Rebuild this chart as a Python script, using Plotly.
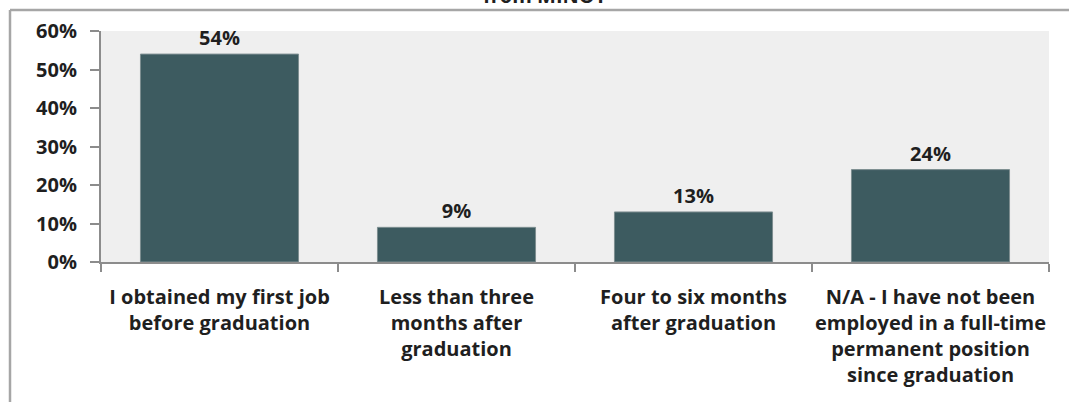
import plotly.graph_objects as go

# Data
categories = [
    "I obtained my first job<br>before graduation",
    "Less than three<br>months after<br>graduation",
    "Four to six months<br>after graduation",
    "N/A - I have not been<br>employed in a full-time<br>permanent position<br>since graduation",
]
percent = [54, 9, 13, 24]
y_ticks = [0, 10, 20, 30, 40, 50, 60]
title_tail = "from MINOT"

# Layout in pixels
W, H = 1069, 402
L, R, T, B = 101, 20, 31, 140
pw, ph = W - L - R, H - T - B

def px_x(x):
    return (x - L) / pw

def px_y(y):
    return (H - B - y) / ph

FONT = "Open Sans"
TXT = "#1f1f1f"
GRAY = "#8c8c8c"

fig = go.Figure()
fig.add_trace(go.Bar(
    x=categories,
    y=percent,
    marker=dict(color="#3d5b60", line=dict(color="#7d8e90", width=1)),
    text=[f"{v}%" for v in percent],
    textposition="outside",
    textfont=dict(family=FONT, size=20, color=TXT, weight="bold"),
    cliponaxis=False,
    width=0.667,
))

fig.update_layout(
    width=W, height=H,
    margin=dict(l=L, r=R, t=T, b=B, autoexpand=False),
    plot_bgcolor="#efefef",
    paper_bgcolor="white",
    showlegend=False,
    font=dict(family=FONT, color=TXT),
)

fig.update_yaxes(
    range=[0, 60],
    tickvals=y_ticks,
    ticktext=[f"{v}%" for v in y_ticks],
    showgrid=False,
    zeroline=False,
    automargin=False,
    showline=True, linecolor=GRAY, linewidth=2,
    ticks="outside", ticklen=9, tickcolor=GRAY, tickwidth=2,
    tickfont=dict(family=FONT, size=20, color=TXT, weight="bold"),
    ticklabelstandoff=9,
)
fig.update_xaxes(
    showgrid=False,
    automargin=False,
    tickangle=0,
    showline=True, linecolor=GRAY, linewidth=2,
    ticks="outside", ticklen=8, tickcolor=GRAY, tickwidth=2,
    tickson="boundaries",
    tickfont=dict(family=FONT, size=20, color=TXT, weight="bold"),
    ticklabelstandoff=16,
)

# outer chart frame (continues past the picture edges)
frame = dict(color="#a6a6a6", width=2.5)
fig.add_shape(type="line", xref="paper", yref="paper",
              x0=px_x(10), y0=px_y(10), x1=px_x(W + 5), y1=px_y(10), line=frame)
fig.add_shape(type="line", xref="paper", yref="paper",
              x0=px_x(10), y0=px_y(10), x1=px_x(10), y1=px_y(H + 5), line=frame)

# last line of the title, mostly cut off by the top edge
fig.add_annotation(
    text=title_tail, xref="paper", yref="paper",
    x=px_x(545), y=px_y(11), xanchor="center", yanchor="bottom",
    showarrow=False,
    font=dict(family=FONT, size=20, color=TXT, weight="bold"),
)

# drop the default page margin so the figure sits at the window corner
fig.write_html("out.html", config={"displayModeBar": False},
               post_script="document.body.style.margin='0';")
